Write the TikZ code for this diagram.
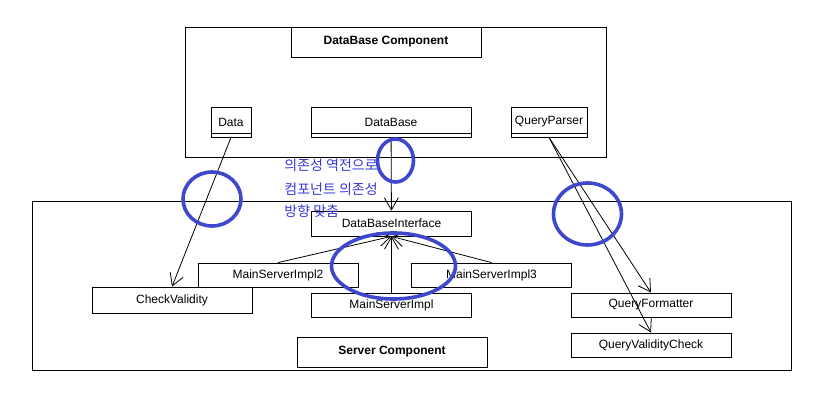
\documentclass[tikz,border=0pt]{standalone}
\usepackage{fontspec}
\setmainfont{Liberation Sans}
\newfontfamily\krfont{Noto Sans CJK KR}
\usepackage{tikz}
\usetikzlibrary{arrows.meta}
\definecolor{penblue}{RGB}{63,72,204}
\definecolor{noteblue}{RGB}{55,55,220}

\begin{document}
\begin{tikzpicture}[x=1pt,y=-1pt,line width=0.8pt,
    frame/.style={draw,inner sep=0pt},
    box/.style={draw,fill=white,inner sep=0pt,minimum width=160pt,minimum height=24pt,font=\fontsize{12}{14}\selectfont},
    titlebox/.style={box,minimum width=190pt,minimum height=30pt,font=\fontsize{12}{14}\selectfont\bfseries},
    classbox/.style={box,minimum height=30pt,
      path picture={\draw ([yshift=4pt]path picture bounding box.south west) -- ([yshift=4pt]path picture bounding box.south east);}},
    note/.style={anchor=west,inner sep=0pt,text=noteblue,font=\krfont\fontsize{14}{16}\selectfont},
    open/.style={-{Straight Barb[length=12pt,width=14pt]}},
    mark ring/.style={draw=penblue,line width=3.6pt}]

    \useasboundingbox[fill=white] (0,0) rectangle (815,406);

    % component frames
    \node[frame,minimum width=421pt,minimum height=130pt] (dbframe)  at (395.5,92)  {};
    \node[frame,minimum width=759pt,minimum height=169pt] (srvframe) at (411.5,285.5) {};

    \node[titlebox] (dbtitle)  at (386,42)  {DataBase Component};
    \node[titlebox] (srvtitle) at (392,352) {Server Component};

    % database side
    \node[classbox,minimum width=40pt] (data)   at (231,122) {Data};
    \node[classbox]                    (db)     at (391,122) {DataBase};
    \node[classbox,minimum width=76pt] (parser) at (549,122) {QueryParser};

    % server side
    \node[box,minimum height=25pt] (dbi)   at (391.5,223.5) {DataBaseInterface};
    \node[box]                     (impl2) at (278,275)     {MainServerImpl2};
    \node[box]                     (impl3) at (491.5,275)   {MainServerImpl3};
    \node[box,minimum height=26pt] (check) at (172,300)     {CheckValidity};
    \node[box]                     (impl)  at (391.5,305)   {MainServerImpl};
    \node[box]                     (fmt)   at (651,305)     {QueryFormatter};
    \node[box]                     (qvc)   at (651,345)     {QueryValidityCheck};

    \node[note] (note1) at (284,165) {의존성 역전으로};
    \node[note] (note2) at (284,189) {컴포넌트 의존성};
    \node[note] (note3) at (284,211) {방향 맞춤};

    \draw (data.south) edge[open] (check.north);
    \draw (db) edge[open] (dbi);
    \draw (impl2.north) edge[open] (dbi.south);
    \draw (impl) edge[open] (dbi);
    \draw (impl3.north) edge[open] (dbi.south);
    \draw (parser.south) edge[open] (fmt.north);
    \draw (parser.south) edge[open] (qvc.north);

    % hand drawn marks
    \draw[mark ring] (212,199) ellipse [x radius=29pt, y radius=27pt];
    \draw[mark ring] (395.5,160.5) ellipse [x radius=18pt, y radius=21.5pt];
    \draw[mark ring] (393.5,266) ellipse [x radius=62pt, y radius=33pt];
    \draw[mark ring] (587.5,214) ellipse [x radius=34pt, y radius=31pt];
  \end{tikzpicture}
\end{document}
